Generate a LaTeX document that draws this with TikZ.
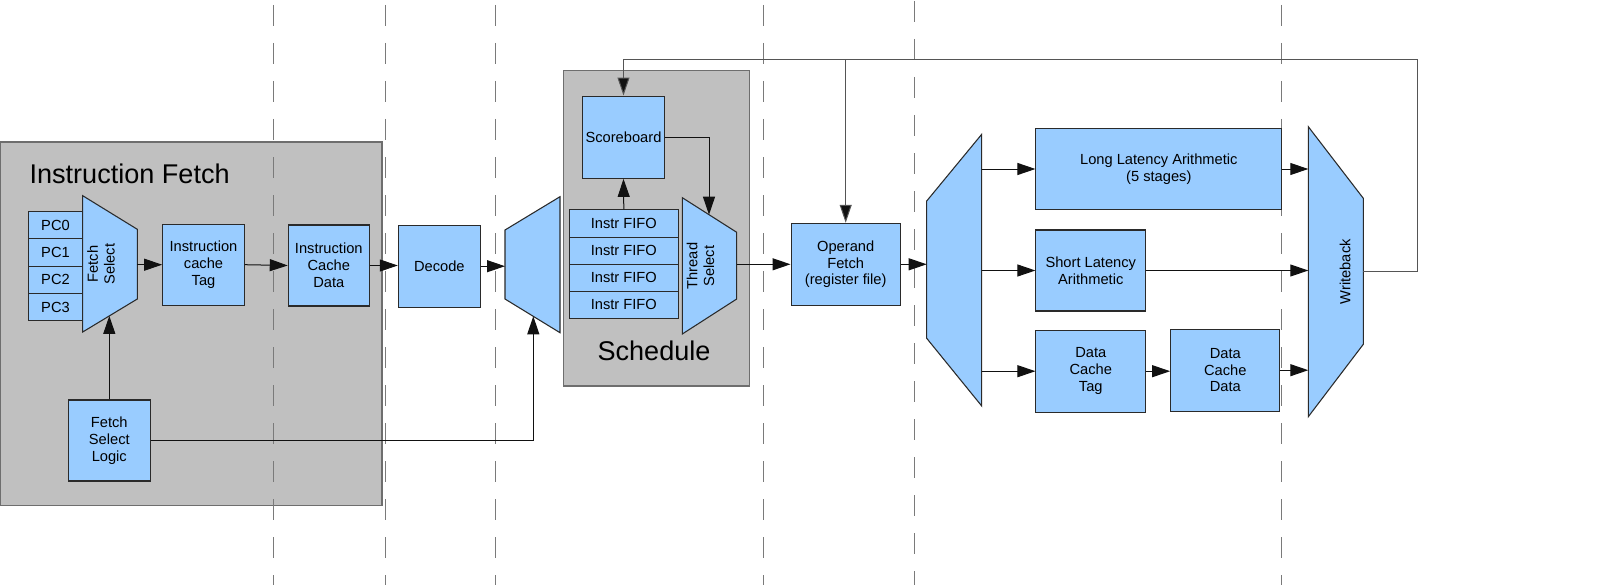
\documentclass[tikz,border=0pt]{standalone}
\usepackage{fontspec}
\setmainfont{Liberation Sans}
\usetikzlibrary{arrows.meta}
\definecolor{blu}{HTML}{99CCFF}
\definecolor{bdr}{HTML}{2A2A2A}
\definecolor{gfill}{HTML}{C0C0C0}
\definecolor{gbdr}{HTML}{6E6E6E}
\definecolor{dashc}{HTML}{7A7A7A}
\definecolor{linec}{HTML}{111111}
\definecolor{fbc}{HTML}{555555}
\begin{document}
\begin{tikzpicture}[x=0.75pt,y=-0.75pt,
 blk/.style={draw=bdr, fill=blu, line width=0.8pt, align=center, inner sep=0pt, font=\fontsize{11}{12.6}\selectfont},
 sz/.style 2 args={minimum width=#1*0.75pt, minimum height=#2*0.75pt},
 grp/.style={draw=gbdr, fill=gfill, line width=0.9pt},
 mux/.style={draw=bdr, fill=blu, line width=0.8pt, line join=miter},
 cut/.style={draw=dashc, line width=0.75pt, dash pattern=on 16pt off 12.5pt},
 arr/.style={draw=linec, line width=0.75pt, -{Triangle[length=13.5pt,width=9pt]}},
 fbarr/.style={draw=fbc, line width=0.75pt, -{Triangle[length=13.5pt,width=9pt,fill=linec]}},
 lbl/.style={font=\fontsize{11}{12.6}\selectfont, align=center, inner sep=0pt},
 ttl/.style={font=\fontsize{20.3}{24}\selectfont, inner sep=0pt}]
\useasboundingbox (0,0) rectangle (1600,585);

% group backgrounds
\draw[grp] (0.5,142) rectangle (382,505.5);
\draw[grp] (563.3,70.7) rectangle (749.3,386);
\node[ttl, anchor=base west] (tif) at (29.3,183.3) {Instruction Fetch};
\node[ttl, anchor=base] (tsch) at (654,360) {Schedule};

% stage cuts
\foreach \xx/\yy in {273.3/5,385/5,495/5,763.3/5,914/1,1281.7/5}
  \draw[cut] (\xx,\yy) -- (\xx,585);

% Instruction fetch
\node[blk, sz={54.4}{27.3}] (pc0) at (55.5,225.3) {PC0};
\node[blk, sz={54.4}{27.3}] (pc1) at (55.5,252.6) {PC1};
\node[blk, sz={54.4}{27.3}] (pc2) at (55.5,279.9) {PC2};
\node[blk, sz={54.4}{27.3}] (pc3) at (55.5,307.2) {PC3};
\draw[mux] (82.7,195.7) -- (137.3,229.3) -- (137.3,299) -- (82.7,332) -- cycle;
\node[lbl, rotate=90] (fsel) at (101,264) {Fetch\\Select};
\coordinate (fsR) at (137.3,264.3);
\coordinate (fsB) at (109.3,315.9);

\node[blk, sz={81.6}{80.7}] (tag) at (203.5,264.7) {Instruction\\cache\\Tag};
\node[blk, sz={81}{81}] (icd) at (328.8,265.5) {Instruction\\Cache\\Data};
\node[blk, sz={82}{81}] (fsl) at (109.3,440.5) {Fetch\\Select\\Logic};
\node[blk, sz={82}{82.3}] (dec) at (439.3,266.2) {Decode};

% decode mux
\draw[mux] (505,230) -- (560,196.7) -- (560,332.7) -- (505,299) -- cycle;
\coordinate (m2L) at (505,265);
\coordinate (m2B) at (533.3,316.3);

% schedule
\node[blk, sz={81.6}{82.3}] (sb) at (623.5,137.2) {Scoreboard};
\node[blk, sz={109}{27.1}] (f0) at (623.8,223.5) {Instr FIFO};
\node[blk, sz={109}{27.1}] (f1) at (623.8,250.6) {Instr FIFO};
\node[blk, sz={109}{27.1}] (f2) at (623.8,277.7) {Instr FIFO};
\node[blk, sz={109}{27.1}] (f3) at (623.8,304.8) {Instr FIFO};
\draw[mux] (682.3,197.7) -- (736.7,232.3) -- (736.7,299) -- (682.3,334) -- cycle;
\node[lbl, rotate=90] (tsel) at (700.5,266) {Thread\\Select};
\coordinate (tsR) at (736.7,266);
\coordinate (tsT) at (709,214.7);

% operand fetch
\node[blk, sz={109.3}{82}] (of) at (845.7,264.3) {Operand\\Fetch\\(register file)};

% execution mux
\draw[mux] (926.7,201) -- (981.7,134.3) -- (981.7,406) -- (926.7,338.3) -- cycle;
\coordinate (m3L) at (926.7,262);
\coordinate (m3R) at (981.7,270);

% execution units
\node[blk, sz={245.7}{80.6}] (lla) at (1158.8,169) {Long Latency Arithmetic\\(5 stages)};
\node[blk, sz={109.7}{81}] (sla) at (1090.8,270.5) {Short Latency\\Arithmetic};
\node[blk, sz={109.7}{82.3}] (dct) at (1090.8,371.2) {Data\\Cache\\Tag};
\node[blk, sz={109.3}{81.7}] (dcd) at (1225.3,370.2) {Data\\Cache\\Data};

% writeback
\draw[mux] (1308.3,126.7) -- (1363.3,198.3) -- (1363.3,344.3) -- (1308.3,416.7) -- cycle;
\node[lbl, rotate=90] (wbt) at (1345,271.7) {Writeback};
\coordinate (wbL) at (1308.3,271);
\coordinate (wbR) at (1363.3,271);

% feedback coordinates
\coordinate (loopR) at (1417.7,59.3);
\coordinate (loopL) at (623.5,59.3);
\coordinate (tap) at (845.7,59.3);

% connectors
\draw[arr] (tag.west -| fsR) -- (tag.west);
\draw[arr] (tag.east) -- (icd.west);
\draw[arr] (icd.east) -- (dec.west |- icd.east);
\draw[arr] (fsl.north) -- (fsB);
\draw[arr] (fsl.east) -| (m2B);
\draw[arr] (dec.east) -- (dec.east -| m2L);
\draw[arr] (f0.north) -- (sb.south);
\draw[arr] (sb.east) -| (tsT);
\draw[arr] (of.west -| tsR) -- (of.west);
\draw[arr] (of.east) -- (of.east -| m3L);
\draw[arr] (lla.west -| m3R) -- (lla.west);
\draw[arr] (sla.west -| m3R) -- (sla.west);
\draw[arr] (dct.west -| m3R) -- (dct.west);
\draw[arr] (dct.east) -- (dcd.west |- dct.east);
\draw[arr] (lla.east) -- (lla.east -| wbL);
\draw[arr] (sla.east) -- (sla.east -| wbL);
\draw[arr] (dcd.east) -- (dcd.east -| wbL);
\draw[fbarr] (wbR) -| (loopR) -- (loopL) -- (sb.north);
\draw[fbarr] (tap) -- (of.north);
\end{tikzpicture}
\end{document}
